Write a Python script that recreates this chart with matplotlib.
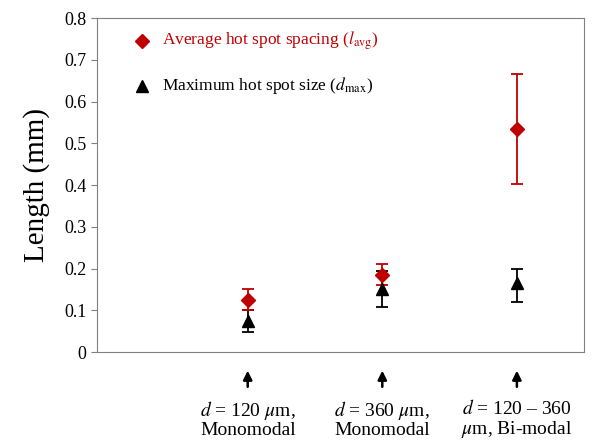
import numpy as np
import matplotlib.pyplot as plt

plt.rcParams['font.family'] = ['Liberation Serif', 'DejaVu Serif']
plt.rcParams['mathtext.fontset'] = 'stix'

# data
groups = ['$d$ = 120 $\\mu$m,\nMonomodal',
          '$d$ = 360 $\\mu$m,\nMonomodal',
          '$d$ = 120 – 360\n$\\mu$m, Bi-modal']
x = np.array([1, 2, 3])

l_avg = [0.125, 0.185, 0.535]
l_lo = [0.100, 0.160, 0.402]
l_hi = [0.150, 0.210, 0.667]

d_max = [0.075, 0.150, 0.165]
d_lo = [0.047, 0.108, 0.120]
d_hi = [0.100, 0.195, 0.200]

red = '#c00000'

fig = plt.figure(figsize=(6.06, 4.40), dpi=100)
ax = fig.add_axes([0.160, 0.200, 0.804, 0.759])

ax.errorbar(x, d_max, yerr=[np.subtract(d_max, d_lo), np.subtract(d_hi, d_max)],
            fmt='^', color='black', ms=9, capsize=4, elinewidth=1.3, capthick=1.3)
ax.errorbar(x, l_avg, yerr=[np.subtract(l_avg, l_lo), np.subtract(l_hi, l_avg)],
            fmt='D', color=red, ms=7, capsize=4, elinewidth=1.3, capthick=1.3)

ax.set_xlim(-0.12, 3.5)
ax.set_ylim(0, 0.8)
ax.set_yticks(np.arange(0, 0.81, 0.1))
ax.set_yticklabels(['0'] + ['%.1f' % v for v in np.arange(0.1, 0.81, 0.1)])
ax.set_xticks([])
ax.tick_params(axis='y', labelsize=13, length=4, color='#808080')
for s in ax.spines.values():
    s.set_color('#808080')
ax.set_ylabel('Length (mm)', fontsize=21, labelpad=10)

# legend drawn as text
ax.plot([0.215], [0.745], 'D', color=red, ms=7)
ax.text(0.36, 0.745, 'Average hot spot spacing ($l_{\\mathrm{avg}}$)', color=red,
        fontsize=12.5, va='center')
ax.plot([0.215], [0.638], '^', color='black', ms=8)
ax.text(0.36, 0.638, 'Maximum hot spot size ($d_{\\mathrm{max}}$)', color='black',
        fontsize=12.5, va='center')

# arrows and group labels below the axis
for xi, lab in zip(x, groups):
    ax.annotate('', xy=(xi, -0.038), xytext=(xi, -0.090),
                xycoords='data', textcoords='data', annotation_clip=False,
                arrowprops=dict(arrowstyle='-|>', color='black', lw=1.8,
                                mutation_scale=13))
    ax.text(xi, -0.112, lab, ha='center', va='top', fontsize=14,
            linespacing=1.05, clip_on=False)

fig.savefig('out.png', dpi=100)
